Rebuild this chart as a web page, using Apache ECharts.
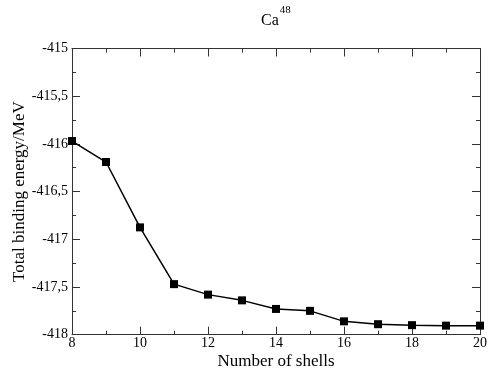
<!DOCTYPE html>
<html><head><meta charset="utf-8">
<script src="https://cdn.jsdelivr.net/npm/echarts@6/dist/echarts.min.js"></script>
<style>html,body{margin:0;padding:0;background:#fff}#c{width:488px;height:378px}</style>
</head><body><div id="c"></div>
<script>
const shells = [8, 9, 10, 11, 12, 13, 14, 15, 16, 17, 18, 19, 20];
const energy = [-415.97, -416.19, -416.875, -417.47, -417.58, -417.64, -417.73, -417.75, -417.86, -417.89, -417.90, -417.905, -417.905];
const xTicks = [8, 10, 12, 14, 16, 18, 20];
const yTicks = [-418, -417.5, -417, -416.5, -416, -415.5, -415];

const font = '"Liberation Serif", "DejaVu Serif", serif';
const axisColor = '#333';
const chart = echarts.init(document.getElementById('c'));
const baseAxis = {
  axisLine: {show: true, lineStyle: {color: axisColor, width: 1}},
  axisTick: {show: true, inside: true, length: 8, lineStyle: {color: axisColor}},
  minorTick: {show: true, splitNumber: 2, length: 4, lineStyle: {color: axisColor}},
  splitLine: {show: false}
};
chart.setOption({
  animation: false,
  textStyle: {fontFamily: font},
  title: {
    text: '{b|Ca}{s|48}', left: 256, top: 0,
    textStyle: {fontWeight: 'normal', fontFamily: font, rich: {
      b: {fontFamily: font, fontWeight: 'normal', fontSize: 16, color: '#000', verticalAlign: 'bottom', lineHeight: 24},
      s: {fontFamily: font, fontWeight: 'normal', fontSize: 11, color: '#000', verticalAlign: 'top', lineHeight: 24, padding: [0,0,8,1]}
    }}
  },
  grid: {left: 72, right: 8, top: 48.5, bottom: 43.3, containLabel: false, outerBoundsMode: 'none'},
  xAxis: [
    Object.assign({}, baseAxis, {
      type: 'value', min: xTicks[0], max: xTicks[xTicks.length-1], interval: 2, position: 'bottom',
      name: 'Number of shells', nameLocation: 'middle', nameGap: 18, nameMoveOverlap: false,
      nameTextStyle: {fontFamily: font, fontSize: 17, color: '#000'},
      axisLabel: {fontFamily: font, fontSize: 14, color: '#000', margin: 2}
    }),
    Object.assign({}, baseAxis, {
      type: 'value', min: xTicks[0], max: xTicks[xTicks.length-1], interval: 2, position: 'top',
      axisLabel: {show: false}
    })
  ],
  yAxis: [
    Object.assign({}, baseAxis, {
      type: 'value', min: yTicks[0], max: yTicks[yTicks.length-1], interval: 0.5, position: 'left',
      name: 'Total binding energy/MeV', nameLocation: 'middle', nameGap: 44, nameMoveOverlap: false,
      nameTextStyle: {fontFamily: font, fontSize: 17, color: '#000'},
      axisLabel: {fontFamily: font, fontSize: 14, color: '#000', margin: 4,
        formatter: v => String(v).replace('.', ',')}
    }),
    Object.assign({}, baseAxis, {
      type: 'value', min: yTicks[0], max: yTicks[yTicks.length-1], interval: 0.5, position: 'right',
      axisLabel: {show: false}
    })
  ],
  series: [{
    type: 'line',
    data: shells.map((s, i) => [s, energy[i]]),
    symbol: 'rect', symbolSize: 8,
    lineStyle: {color: '#000', width: 1.5},
    itemStyle: {color: '#000'}
  }]
});
</script></body></html>
